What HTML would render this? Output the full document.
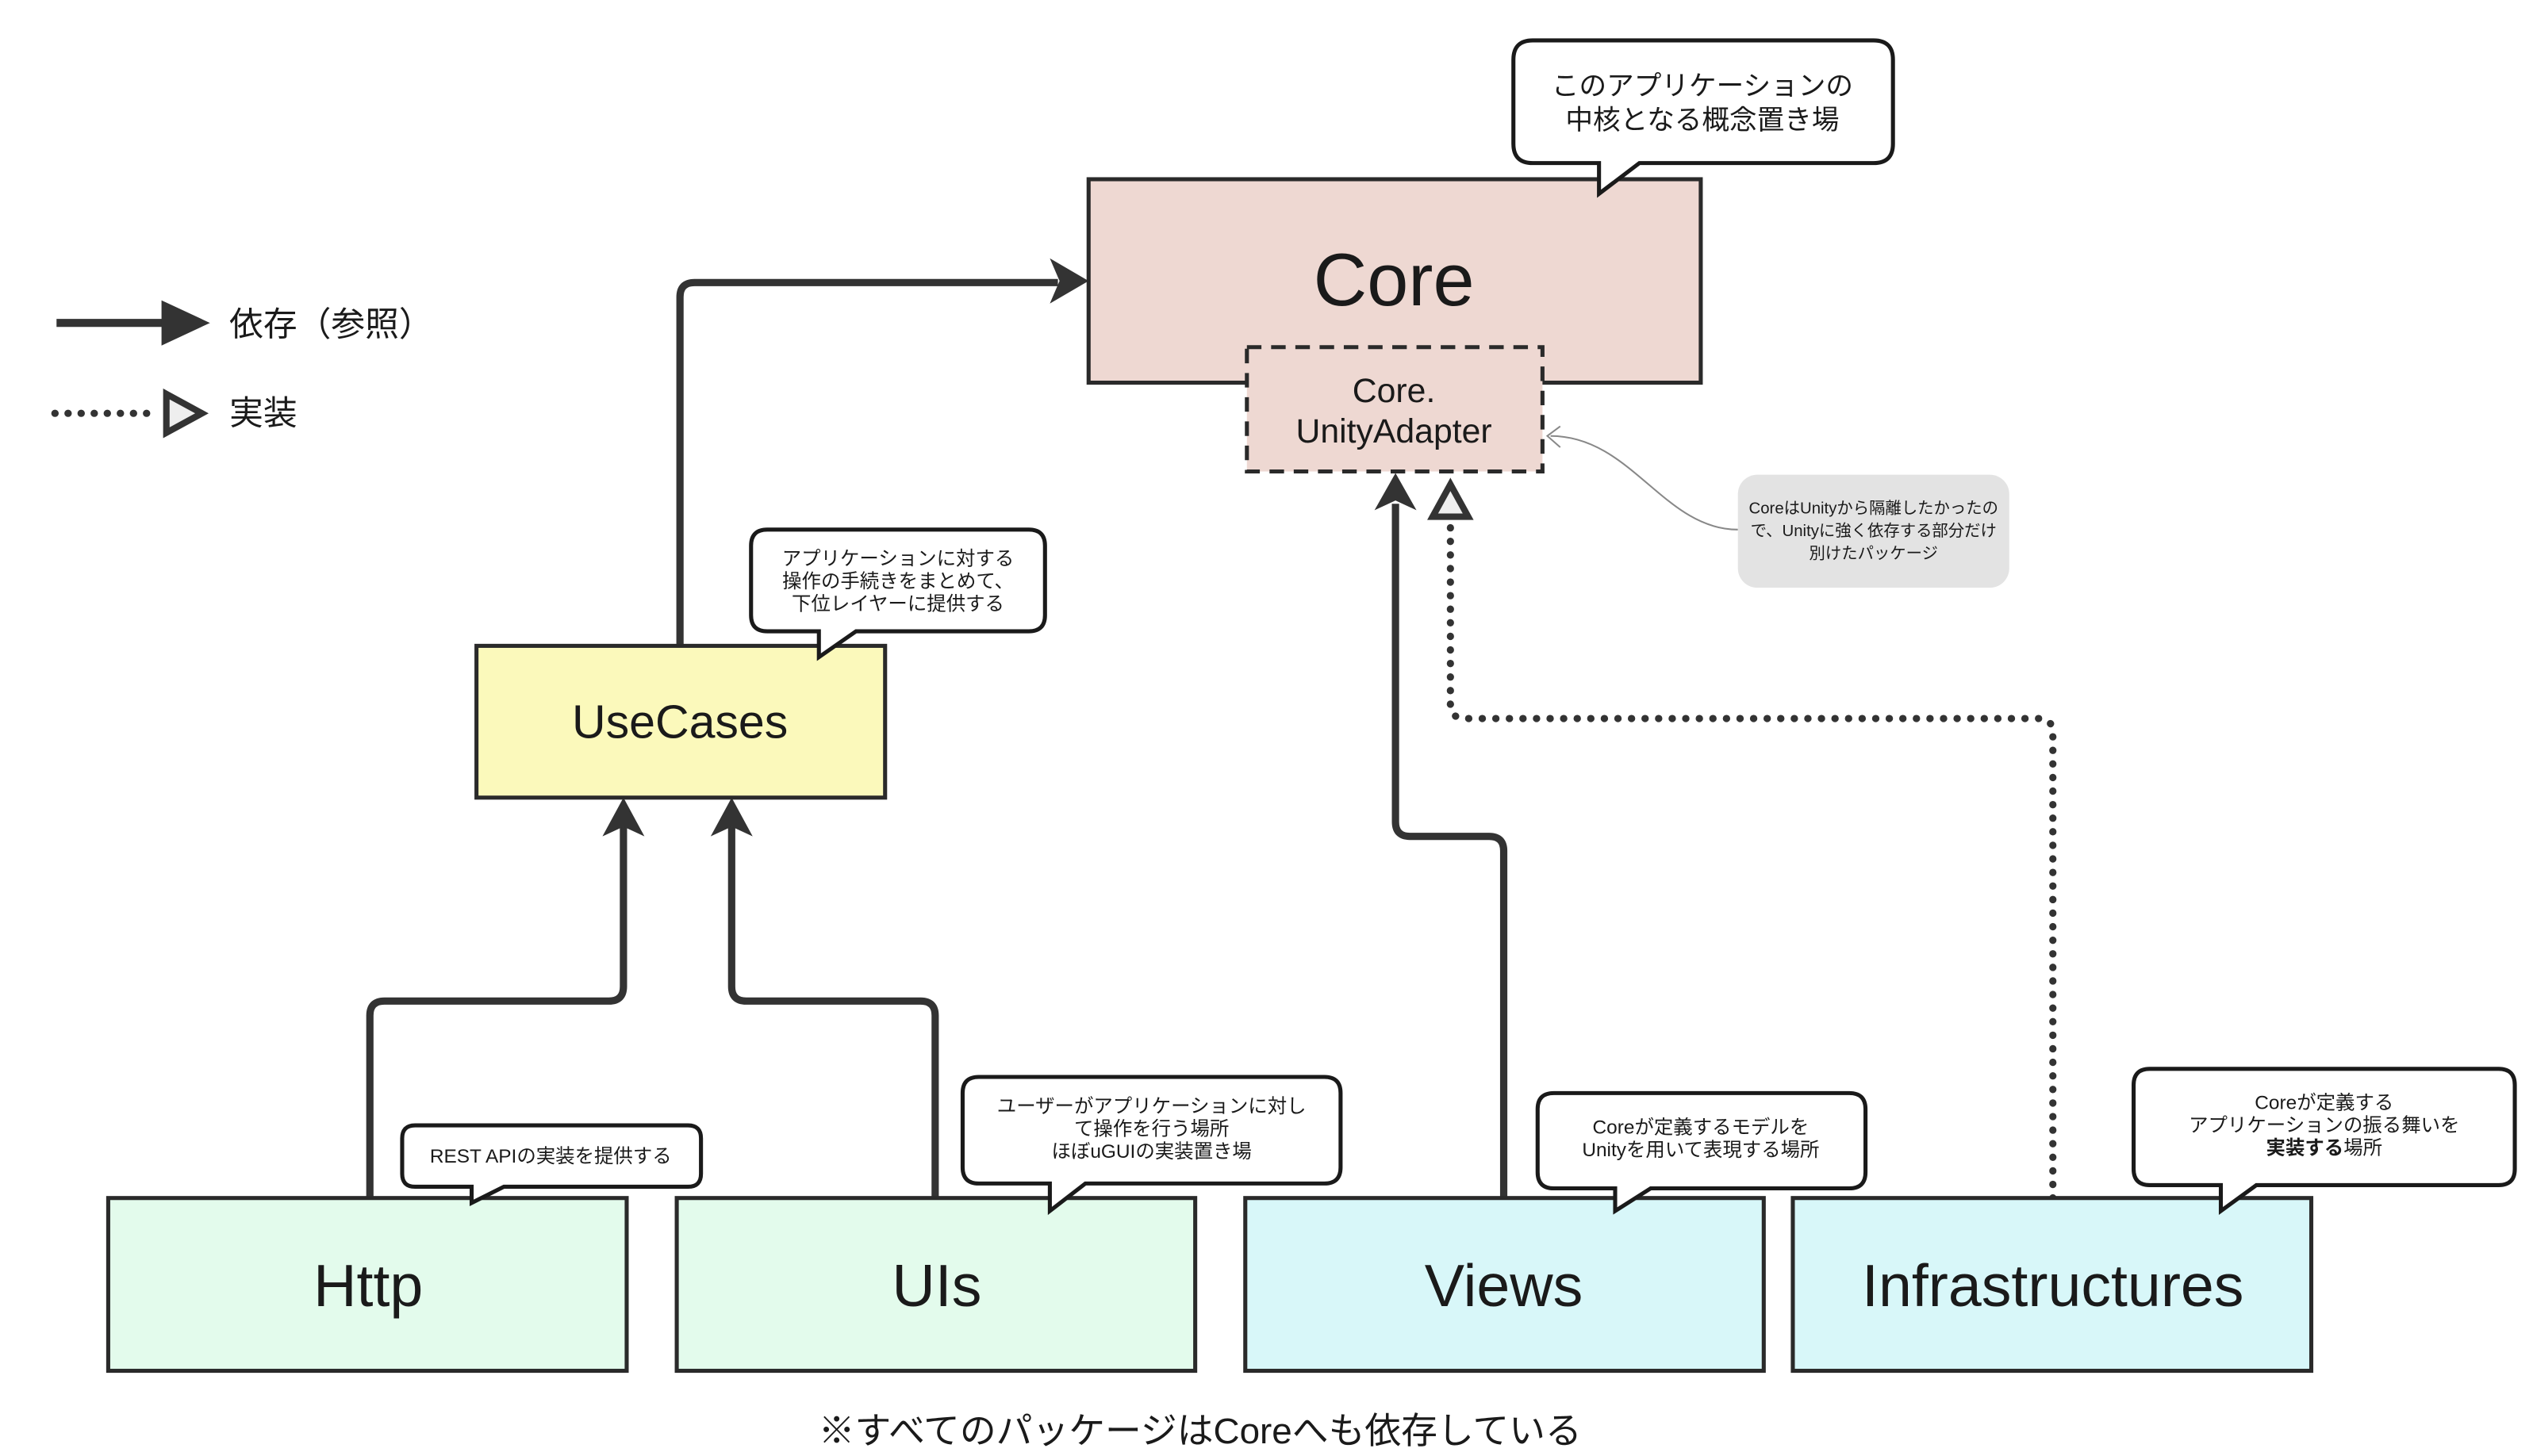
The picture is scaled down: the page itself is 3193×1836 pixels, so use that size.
<!DOCTYPE html>
<html><head><meta charset="utf-8"><style>
html,body{margin:0;padding:0;background:#fff;}
svg{display:block}
text{font-family:"Liberation Sans","Noto Sans CJK JP",sans-serif;fill:#1a1a1a}
</style></head><body>
<svg width="3193" height="1836" viewBox="0 0 3193 1836" xmlns="http://www.w3.org/2000/svg">
<g transform="scale(2.036)">
<!-- legend -->
<line x1="35" y1="200" x2="102" y2="200" stroke="#333" stroke-width="5"/>
<polygon points="100,186 130,200 100,214" fill="#333"/>
<text x="142" y="208" font-size="21">依存（参照）</text>
<line x1="34" y1="256" x2="98" y2="256" stroke="#333" stroke-width="4.5" stroke-dasharray="0.1 8" stroke-linecap="round"/>
<polygon points="103,244 125,256 103,268" fill="#eee" stroke="#333" stroke-width="4"/>
<text x="142" y="263" font-size="21">実装</text>

<!-- connectors -->
<g fill="none" stroke="#333" stroke-width="4.5">
<path d="M421,400 V184 Q421,175 430,175 H655"/>
<path d="M229,742 V629 Q229,620 238,620 H377 Q386,620 386,611 V512"/>
<path d="M579,742 V629 Q579,620 570,620 H462 Q453,620 453,611 V512"/>
<path d="M931,742 V527 Q931,518 922,518 H873 Q864,518 864,509 V312"/>
<path d="M1271,742 V454 Q1271,445 1262,445 H907 Q898,445 898,436 V324" stroke-dasharray="0.1 8.3" stroke-linecap="round"/>
</g>
<polygon points="650,160 674,174 650,188 656,174" fill="#333"/>
<polygon points="373,518 386,494 399,518 386,512" fill="#333"/>
<polygon points="440,518 453,494 466,518 453,512" fill="#333"/>
<polygon points="851,316 864,293 877,316 864,310" fill="#333"/>
<polygon points="887,320 898,300 909,320" fill="#eee" stroke="#333" stroke-width="4"/>

<!-- Core -->
<rect x="674" y="111" width="379" height="126" fill="#eed8d2" stroke="#2a2a2a" stroke-width="2.5"/>
<text x="863" y="189" font-size="46" text-anchor="middle">Core</text>
<rect x="772" y="215" width="183" height="77" fill="#eed8d2" stroke="#2a2a2a" stroke-width="2.5" stroke-dasharray="9 6"/>
<text x="863" y="249" font-size="21" text-anchor="middle">Core.</text>
<text x="863" y="274" font-size="21" text-anchor="middle">UnityAdapter</text>

<!-- gray note -->
<path d="M1076,328 C1030,328 1010,270 960,270" fill="none" stroke="#888" stroke-width="1"/>
<path d="M966,264 L958,270 L966,277" fill="none" stroke="#888" stroke-width="1"/>
<rect x="1076" y="294" width="168" height="70" rx="12" fill="#e3e3e3"/>
<text x="1160" y="318" font-size="10" text-anchor="middle">CoreはUnityから隔離したかったの</text>
<text x="1160" y="332" font-size="10" text-anchor="middle">で、Unityに強く依存する部分だけ</text>
<text x="1160" y="346" font-size="10" text-anchor="middle">別けたパッケージ</text>

<!-- UseCases -->
<rect x="295" y="400" width="253" height="94" fill="#fbf9bb" stroke="#2a2a2a" stroke-width="2.5"/>
<text x="421" y="457" font-size="29" text-anchor="middle">UseCases</text>

<!-- bottom boxes -->
<rect x="67" y="742" width="321" height="107" fill="#e3fbec" stroke="#2a2a2a" stroke-width="2.5"/>
<text x="228" y="809" font-size="37" text-anchor="middle">Http</text>
<rect x="419" y="742" width="321" height="107" fill="#e3fbec" stroke="#2a2a2a" stroke-width="2.5"/>
<text x="580" y="809" font-size="37" text-anchor="middle">UIs</text>
<rect x="771" y="742" width="321" height="107" fill="#d8f7f9" stroke="#2a2a2a" stroke-width="2.5"/>
<text x="931" y="809" font-size="37" text-anchor="middle">Views</text>
<rect x="1110" y="742" width="321" height="107" fill="#d8f7f9" stroke="#2a2a2a" stroke-width="2.5"/>
<text x="1271" y="809" font-size="37" text-anchor="middle">Infrastructures</text>

<!-- callouts -->
<g fill="#fff" stroke="#1a1a1a" stroke-width="2.5">
<path d="M949,25 H1160 Q1172,25 1172,37 V89 Q1172,101 1160,101 H1015 L990,120 V101 H949 Q937,101 937,89 V37 Q937,25 949,25 Z"/>
<path d="M475,328 H637 Q647,328 647,338 V381 Q647,391 637,391 H530 L507,407 V391 H475 Q465,391 465,381 V338 Q465,328 475,328 Z"/>
<path d="M257,697 H426 Q434,697 434,705 V727 Q434,735 426,735 H312 L292,745 V735 H257 Q249,735 249,727 V705 Q249,697 257,697 Z"/>
<path d="M606,667 H820 Q830,667 830,677 V723 Q830,733 820,733 H672 L650,750 V733 H606 Q596,733 596,723 V677 Q596,667 606,667 Z"/>
<path d="M962,677 H1145 Q1155,677 1155,687 V726 Q1155,736 1145,736 H1022 L1000,750 V736 H962 Q952,736 952,726 V687 Q952,677 962,677 Z"/>
<path d="M1331,662 H1547 Q1557,662 1557,672 V724 Q1557,734 1547,734 H1397 L1375,750 V734 H1331 Q1321,734 1321,724 V672 Q1321,662 1331,662 Z"/>
</g>
<text x="1054" y="59" font-size="17" text-anchor="middle">このアプリケーションの</text>
<text x="1054" y="80" font-size="17" text-anchor="middle">中核となる概念置き場</text>
<text x="556" y="350" font-size="12" text-anchor="middle">アプリケーションに対する</text>
<text x="556" y="364" font-size="12" text-anchor="middle">操作の手続きをまとめて、</text>
<text x="556" y="378" font-size="12" text-anchor="middle">下位レイヤーに提供する</text>
<text x="341" y="720" font-size="12" text-anchor="middle">REST APIの実装を提供する</text>
<text x="713" y="689" font-size="12" text-anchor="middle">ユーザーがアプリケーションに対し</text>
<text x="713" y="703" font-size="12" text-anchor="middle">て操作を行う場所</text>
<text x="713" y="717" font-size="12" text-anchor="middle">ほぼuGUIの実装置き場</text>
<text x="1053" y="702" font-size="12" text-anchor="middle">Coreが定義するモデルを</text>
<text x="1053" y="716" font-size="12" text-anchor="middle">Unityを用いて表現する場所</text>
<text x="1439" y="687" font-size="12" text-anchor="middle">Coreが定義する</text>
<text x="1439" y="701" font-size="12" text-anchor="middle">アプリケーションの振る舞いを</text>
<text x="1439" y="715" font-size="12" text-anchor="middle"><tspan font-weight="bold">実装する</tspan>場所</text>

<text x="743" y="894" font-size="22.5" text-anchor="middle">※すべてのパッケージはCoreへも依存している</text>
</g>
</svg>
</body></html>
